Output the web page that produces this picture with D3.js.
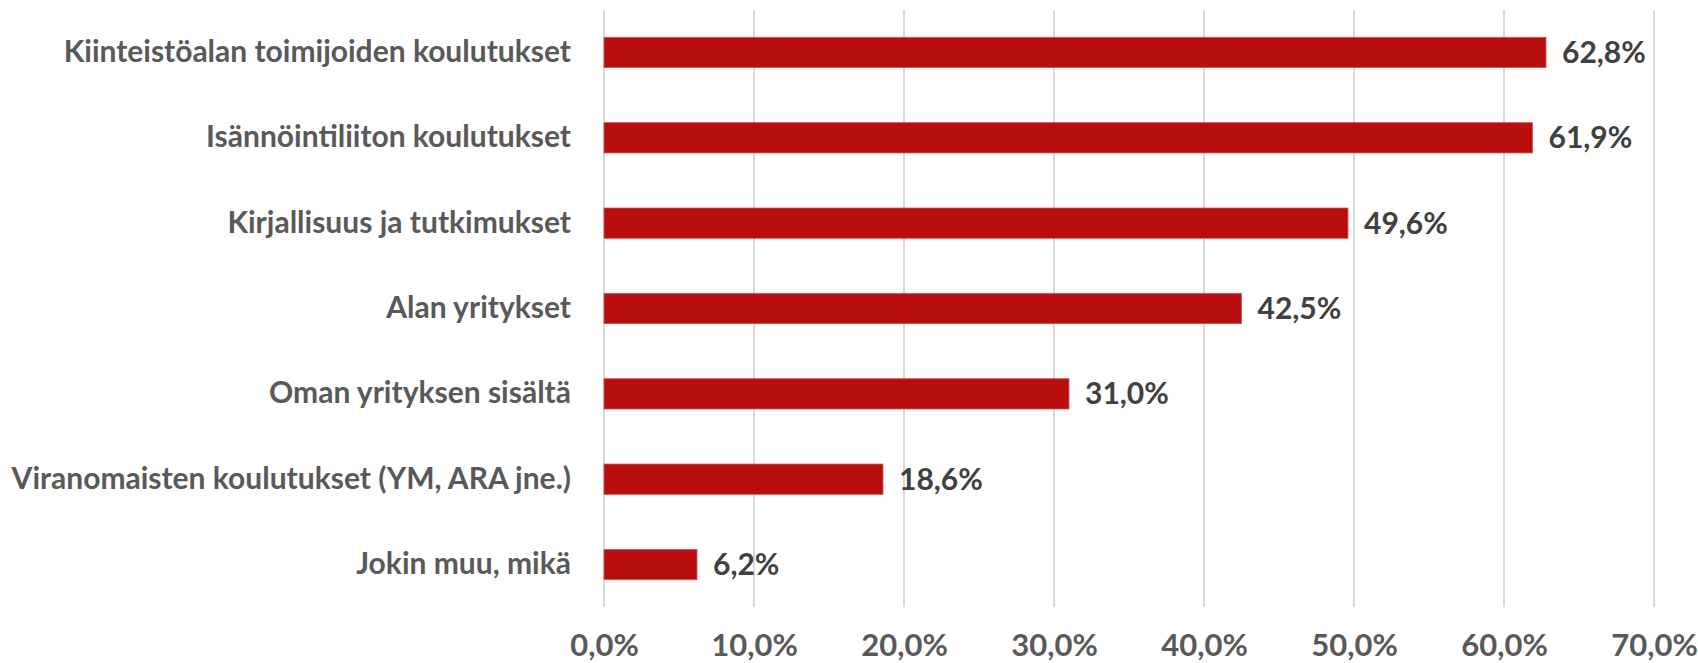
<!DOCTYPE html>
<html>
<head>
<meta charset="utf-8">
<script src="https://cdn.jsdelivr.net/npm/d3@7"></script>
<style>
  body { margin: 0; background: #fff; }
  text { font-family: Lato, "Open Sans", sans-serif; font-weight: 700; }
</style>
</head>
<body>
<div id="chart"></div>
<script>
const categories = [
    "Kiinteistöalan toimijoiden koulutukset",
    "Isännöintiliiton koulutukset",
    "Kirjallisuus ja tutkimukset",
    "Alan yritykset",
    "Oman yrityksen sisältä",
    "Viranomaisten koulutukset (YM, ARA jne.)",
    "Jokin muu, mikä"
];
const values = [62.8, 61.9, 49.6, 42.5, 31.0, 18.6, 6.2];
const ticks = [0, 10, 20, 30, 40, 50, 60, 70];

const fmt = v => v.toFixed(1).replace(".", ",") + "%";

const width = 1698, height = 663;
const margin = { top: 10, right: 44, bottom: 56, left: 604 };
const innerW = width - margin.left - margin.right;
const innerH = height - margin.top - margin.bottom;

const svg = d3.select("#chart").append("svg")
    .attr("width", width)
    .attr("height", height);

const g = svg.append("g")
    .attr("transform", `translate(${margin.left},${margin.top})`);

const x = d3.scaleLinear().domain([0, 70]).range([0, innerW]);
const y = d3.scaleBand().domain(categories).range([0, innerH]).paddingInner(0.645).paddingOuter(0.32);

// gridlines
g.append("g")
    .selectAll("line")
    .data(ticks)
    .join("line")
    .attr("x1", d => x(d)).attr("x2", d => x(d))
    .attr("y1", 0).attr("y2", innerH)
    .attr("stroke", "#d9d9d9")
    .attr("stroke-width", 2);

// x axis labels
const xAxis = d3.axisBottom(x).tickValues(ticks).tickFormat(fmt).tickSize(0).tickPadding(27);
g.append("g")
    .attr("transform", `translate(0,${innerH})`)
    .call(xAxis)
    .call(s => s.select(".domain").remove())
    .selectAll("text")
    .attr("fill", "#595959")
    .style("font-size", "31px")
    .style("font-family", "Lato, sans-serif");

// y axis labels
const yAxis = d3.axisLeft(y).tickSize(0).tickPadding(33);
g.append("g")
    .call(yAxis)
    .call(s => s.select(".domain").remove())
    .selectAll("text")
    .attr("fill", "#595959")
    .style("font-size", "30px")
    .style("font-family", "Lato, sans-serif");

// bars
g.selectAll(".bar")
    .data(values)
    .join("rect")
    .attr("class", "bar")
    .attr("x", x(0))
    .attr("y", (d, i) => y(categories[i]))
    .attr("width", d => x(d) - x(0))
    .attr("height", y.bandwidth())
    .attr("fill", "#b90e0e")
    .attr("stroke", "#d9505a")
    .attr("stroke-width", 0.8);

// value labels
g.selectAll(".val")
    .data(values)
    .join("text")
    .attr("class", "val")
    .attr("x", d => x(d) + 16)
    .attr("y", (d, i) => y(categories[i]) + y.bandwidth() / 2)
    .attr("dy", "0.35em")
    .attr("fill", "#404040")
    .style("font-size", "30px")
    .text(fmt);
</script>
</body>
</html>
